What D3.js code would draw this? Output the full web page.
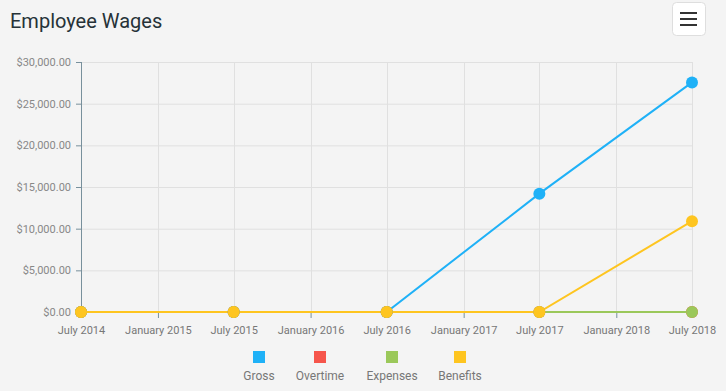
<!DOCTYPE html>
<html>
<head>
<meta charset="utf-8">
<script src="https://cdn.jsdelivr.net/npm/d3@7"></script>
<style>
  body { margin: 0; background: #f4f4f4; font-family: Roboto, "Open Sans", sans-serif; }
  svg { display: block; }
</style>
</head>
<body>
<div id="chart"></div>
<script>
// data
var dates = ["2014-07-01", "2015-07-01", "2016-07-01", "2017-07-01", "2018-07-01"];
var gross = [0, 0, 0, 14200, 27550];
var overtime = [0, 0, 0, 0, 0];
var expenses = [0, 0, 0, 0, 0];
var benefits = [0, 0, 0, 0, 10900];
var seriesNames = ["Gross", "Overtime", "Expenses", "Benefits"];
var seriesColors = ["#1fb1f7", "#f6554b", "#9bc85a", "#fec520"];
var yTicks = [0, 5000, 10000, 15000, 20000, 25000, 30000];
var xTicks = ["2014-07-01", "2015-01-01", "2015-07-01", "2016-01-01", "2016-07-01",
    "2017-01-01", "2017-07-01", "2018-01-01", "2018-07-01"];

var W = 726, H = 391;
var margin = { top: 62, right: 34, bottom: 79, left: 81 },
    width = W - margin.left - margin.right,
    height = H - margin.top - margin.bottom;

var parseDate = d3.timeParse("%Y-%m-%d");
var fmtMoney = d3.format("$,.2f");
var fmtMonth = d3.timeFormat("%B %Y");

var svg = d3.select("#chart").append("svg")
    .attr("width", W)
    .attr("height", H);

svg.append("rect").attr("width", W).attr("height", H).attr("fill", "#f4f4f4");

// title
svg.append("text")
    .attr("x", 10).attr("y", 28)
    .attr("font-size", 20)
    .attr("fill", "#263238")
    .text("Employee Wages");

// menu button
var menu = svg.append("g").attr("transform", "translate(672,2)");
menu.append("rect")
    .attr("x", 0.5).attr("y", 0.5).attr("width", 33).attr("height", 33).attr("rx", 4)
    .attr("fill", "#fff").attr("stroke", "#dedede");
[11, 17, 23].forEach(function (y) {
    menu.append("rect").attr("x", 8).attr("y", y - 1).attr("width", 17).attr("height", 2).attr("fill", "#333");
});

var g = svg.append("g")
    .attr("transform", "translate(" + margin.left + "," + margin.top + ")");

var scalex = d3.scaleTime()
    .domain([parseDate(dates[0]), parseDate(dates[dates.length - 1])])
    .range([0, width]);
var scaley = d3.scaleLinear().domain([0, 30000]).range([height, 0]);

// grid
g.append("g").selectAll("line").data(yTicks).enter().append("line")
    .attr("x1", 0).attr("x2", width)
    .attr("y1", function (d) { return scaley(d) + 0.5; })
    .attr("y2", function (d) { return scaley(d) + 0.5; })
    .attr("stroke", "#e0e0e0");
g.append("g").selectAll("line").data(xTicks.slice(1)).enter().append("line")
    .attr("x1", function (d) { return Math.round(scalex(parseDate(d))) + 0.5; })
    .attr("x2", function (d) { return Math.round(scalex(parseDate(d))) + 0.5; })
    .attr("y1", 0).attr("y2", height)
    .attr("stroke", "#e0e0e0");

// y axis
var yAxis = g.append("g")
    .call(d3.axisLeft(scaley).tickValues(yTicks).tickSize(5).tickPadding(5).tickFormat(fmtMoney));
yAxis.select(".domain").attr("stroke", "#78909c").attr("d", "M0.5,0V" + height);
yAxis.selectAll(".tick line").attr("stroke", "#78909c");
yAxis.selectAll("text").attr("fill", "#888").attr("font-size", 11).attr("font-family", "Roboto");

// x axis
var xAxis = g.append("g")
    .attr("transform", "translate(0," + height + ")")
    .call(d3.axisBottom(scalex).tickValues(xTicks.map(parseDate)).tickSize(6).tickPadding(8).tickFormat(fmtMonth));
xAxis.select(".domain").attr("stroke", "#78909c").attr("d", "M0,0.5H" + width);
xAxis.selectAll(".tick line").attr("stroke", "#78909c");
xAxis.selectAll("text").attr("fill", "#777").attr("font-size", 11).attr("font-family", "Roboto");

// series
var allSeries = [gross, overtime, expenses, benefits];
var valueline = d3.line()
    .x(function (d, i) { return scalex(parseDate(dates[i])); })
    .y(function (d) { return scaley(d); });

allSeries.forEach(function (vals, k) {
    g.append("path")
        .datum(vals)
        .attr("d", valueline)
        .attr("fill", "none")
        .attr("stroke", seriesColors[k])
        .attr("stroke-width", 2);
});
allSeries.forEach(function (vals, k) {
    g.append("g").selectAll("circle").data(vals).enter().append("circle")
        .attr("cx", function (d, i) { return scalex(parseDate(dates[i])); })
        .attr("cy", function (d) { return scaley(d); })
        .attr("r", 6)
        .attr("fill", seriesColors[k]);
});

// legend
var legendX = [259, 320, 392, 460];
var legend = svg.append("g").selectAll("g").data(seriesNames).enter().append("g")
    .attr("transform", function (d, i) { return "translate(" + legendX[i] + ",357)"; });
legend.append("rect")
    .attr("x", -6).attr("y", -6).attr("width", 12).attr("height", 12)
    .attr("fill", function (d, i) { return seriesColors[i]; });
legend.append("text")
    .attr("y", 23)
    .attr("text-anchor", "middle")
    .attr("font-size", 12)
    .attr("fill", "#777")
    .text(function (d) { return d; });
</script>
</body>
</html>
